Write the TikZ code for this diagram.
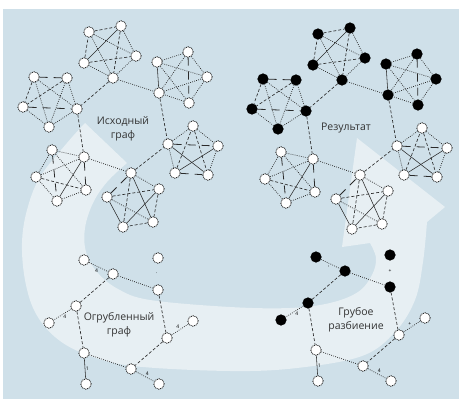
\documentclass[tikz,border=0pt]{standalone}
\usepackage{fontspec}
\setmainfont{Open Sans}
\definecolor{bgblue}{HTML}{CFE0E9}
\definecolor{bandc}{HTML}{E7EFF3}
\definecolor{edgec}{HTML}{2A2A2A}
\tikzset{
 wn/.style={circle, minimum size=10.5pt, inner sep=0pt, fill=white, draw=black, line width=0.7pt, dash pattern=on 1pt off 0.8pt},
 bn/.style={circle, minimum size=10.5pt, inner sep=0pt, fill=black, draw=black, line width=0.6pt},
 dt/.style={draw=edgec, line width=0.7pt, dash pattern=on 0.8pt off 1.3pt},
 ds/.style={draw=edgec, line width=0.65pt, dash pattern=on 3pt off 2pt},
 ld/.style={draw=edgec, line width=0.8pt, dash pattern=on 8pt off 6pt},
 sl/.style={draw=edgec, line width=0.55pt},
 lbl/.style={font=\fontsize{10.5}{14}\selectfont, text=black!80, align=center, inner sep=1pt},
 tn/.style={font=\fontsize{5}{5}\selectfont, inner sep=0.5pt, text=black}
}
\newcommand\biggraph[1]{%
 \foreach \nm/\x/\y in {A1/89/32, A2/121/26, A3/136/56, A4/113/78, A5/84/63,
   B1/34/77, B2/67/78, B3/77/109, B4/49/127, B5/23/107,
   C1/157/62, C2/188/52, C3/207/77, C4/189/103, C5/159/93}
   \node[#1] (\nm) at (\x,\y) {};
 \foreach \nm/\x/\y in {D1/193/126, D2/218/146, D3/208/175, D4/175/173, D5/168/144,
   E1/52/150, E2/84/157, E3/86/190, E4/57/201, E5/36/177,
   F1/131/173, F2/159/189, F3/153/222, F4/123/227, F5/107/197}
   \node[wn] (\nm) at (\x,\y) {};
 \foreach \a/\b in {A2/A3, A3/A4, A4/A5, A1/A3, A1/A4, B5/B4, B4/B3, B3/B2, B1/B4, B1/B3, B2/B4,
   C1/C2, C2/C3, C3/C4, C4/C5, C1/C3, C1/C4, C2/C5, C5/C3, D1/D2, D2/D3, D4/D5, D5/D1,
   E1/E2, E3/E4, E4/E5, E5/E1, E1/E3, E5/E2, F1/F2, F5/F3, A4/C5, E2/F1}
   \draw[dt] (\a) -- (\b);
 \foreach \a/\b in {A1/A2, A5/A1, A2/A4, A5/A3, B1/B5, B2/B5, D4/D1, D1/D3, E5/E3, F2/F3, F3/F4,
   F1/F4, F5/F2, A4/B3, B3/E2, C5/D5, F1/D5}
   \draw[ds] (\a) -- (\b);
 \foreach \a/\b in {B1/B2, B5/B3, C2/C4, D5/D2, D4/D3, E2/E3, E1/E4, F5/F1}
   \draw[ld] (\a) -- (\b);
 \foreach \a/\b in {A2/A5, C5/C1, D5/D3, D4/D2, E2/E4, F4/F5, F1/F3, F2/F4}
   \draw[sl] (\a) -- (\b);
}
\newcommand\smallnodes[1]{%
 \foreach \nm/\x/\y in {s1/84/260, s2/113/274, s3/158/258, s4/158/290, s5/76/306, s6/49/323}
   \node[#1] (\nm) at (\x,\y) {};
 \foreach \nm/\x/\y in {s7/167/338, s8/193/321, s9/84/353, s10/131/369, s11/159/384, s12/86/384}
   \node[wn] (\nm) at (\x,\y) {};
 \draw[dt] (s2) -- (s4);
 \draw[ds] (s2) -- (s5);
 \draw[ds] (s5) -- (s9);
 \draw[ds] (s4) -- (s7);
 \draw[ds] (s7) -- (s10);
 \draw[dt] (s9) -- (s10);
}
\begin{document}
\begin{tikzpicture}[x=1pt,y=-1pt]
\useasboundingbox (0,0) rectangle (459,399);
\fill[white] (0,0) rectangle (459,399);
\fill[bgblue] (3,9) rectangle (459,399);
\fill[bandc] plot[smooth,tension=0.6] coordinates {(85,123) (67,143) (40,177) (27,210) (22,243) (25,280) (35,312) (55,337) (85,354) (133,366) (230,371) (297,368) (362,356) (395,332) (415,300) (423,262) (427,222)}
  -- (445,207) -- (357,138) -- (342,247) -- (370,243)
  -- plot[smooth,tension=0.6] coordinates {(370,243) (376,258) (372,275) (358,292) (330,303) (290,308) (230,307) (150,300) (118,289) (97,272) (86,252) (85,228) (93,203) (107,182) (127,163)} -- cycle;

% original graph
\begin{scope}[name prefix=L]
 \biggraph{wn}
\end{scope}
% result graph
\begin{scope}[shift={(229,2)}, name prefix=R]
 \biggraph{bn}
\end{scope}

% coarse graph
\begin{scope}[name prefix=P]
 \smallnodes{wn}
 \draw[dt] (s1) -- node[tn, pos=0.4, below=1.5pt] {4} (s2);
 \path (s3) -- node[tn, pos=0.45, left=0pt] {.} (s4);
 \draw[dt] (s5) -- node[tn, pos=0.5, below right=0pt] {4} (s6);
 \draw[dt] (s7) -- node[tn, pos=0.5, above left=0pt] {4} (s8);
 \draw[dt] (s10) -- node[tn, pos=0.5, above right=0pt] {4} (s11);
 \draw[sl] (s9) -- node[tn, pos=0.5, right=0pt] {1} (s12);
\end{scope}
% coarse partition
\begin{scope}[shift={(232,-3)}, name prefix=Q]
 \smallnodes{bn}
 \draw[dt] (s1) -- node[tn, pos=0.4, below=1.5pt] {'} (s2);
 \path (s3) -- node[tn, pos=0.5] {+} (s4);
 \draw[dt] (s5) -- node[tn, pos=0.5, below right=0pt] {4} (s6);
 \draw[dt] (s7) -- node[tn, pos=0.5, above left=0pt] {+} (s8);
 \draw[dt] (s10) -- node[tn, pos=0.5, above right=0pt] {4} (s11);
 \draw[sl] (s9) -- node[tn, pos=0.5, right=0pt] {1} (s12);
\end{scope}

\node[lbl] (t1) at (123,129) {Исходный\\граф};
\node[lbl] (t2) at (346,128) {Результат};
\node[lbl] (t3) at (119,325) {Огрубленный\\граф};
\node[lbl] (t4) at (356,320) {Грубое\\разбиение};
\end{tikzpicture}
\end{document}
